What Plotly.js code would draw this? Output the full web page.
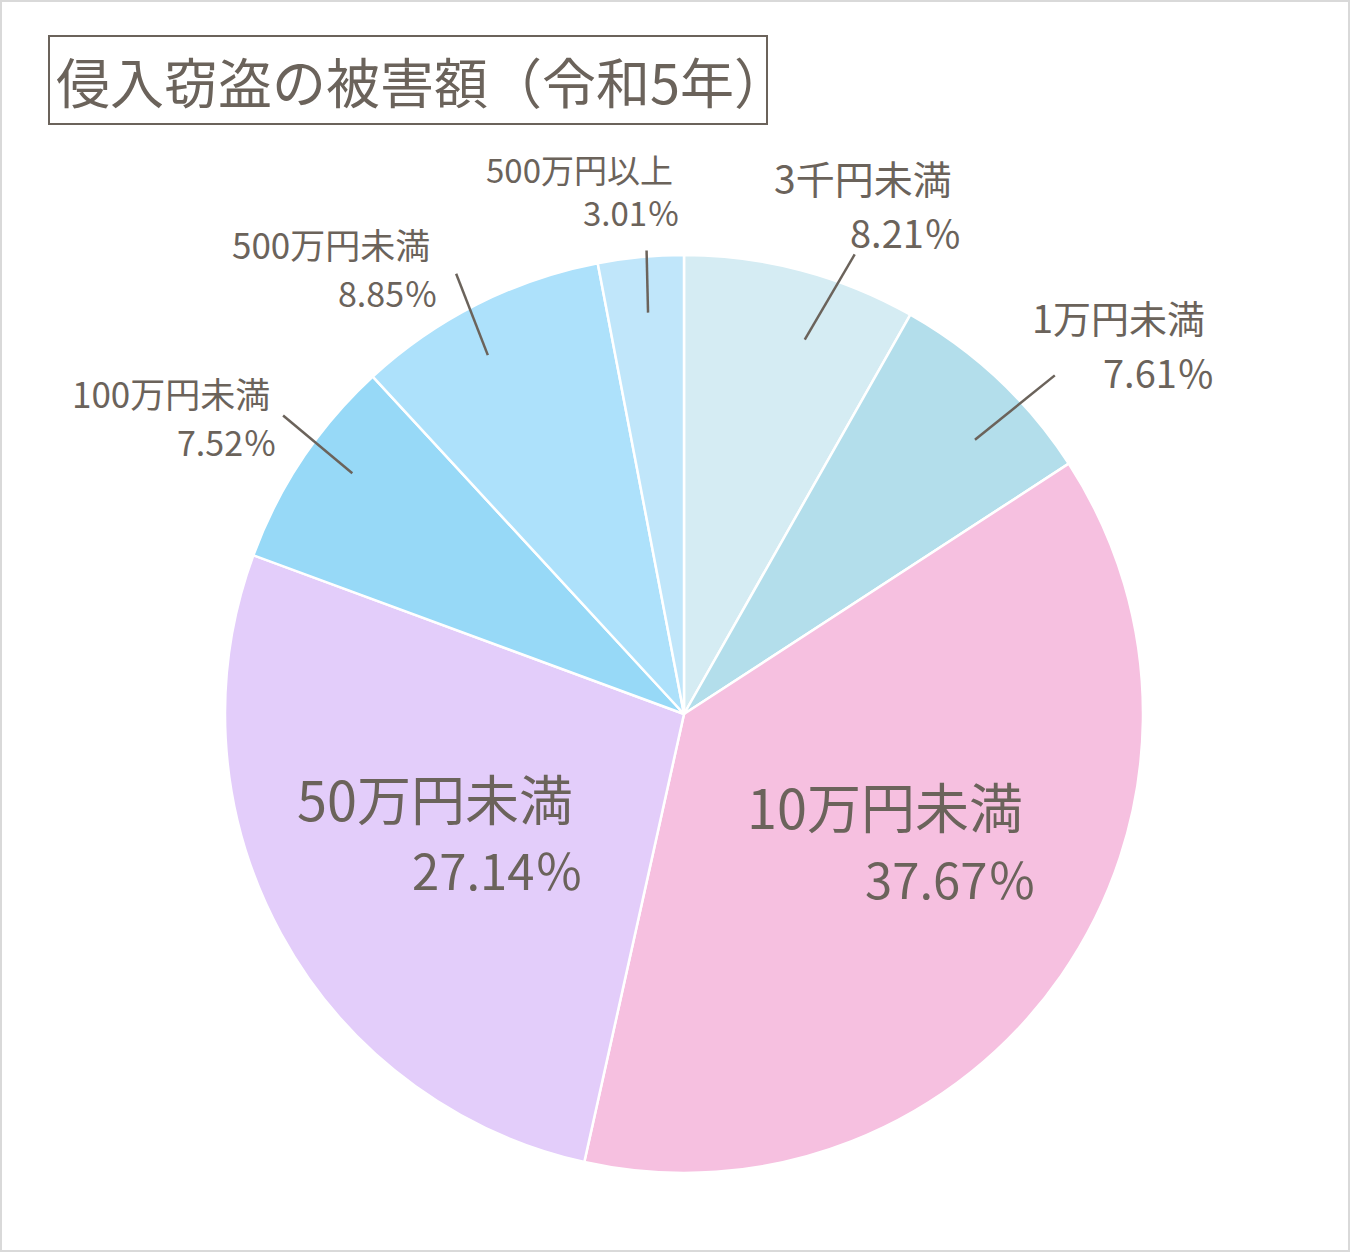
<!DOCTYPE html>
<html>
<head>
<meta charset="utf-8">
<script src="https://cdn.plot.ly/plotly-3.0.1.min.js"></script>
<style>
  html, body { margin: 0; padding: 0; background: #ffffff; }
  #chart { width: 1350px; height: 1252px; }
</style>
</head>
<body>
<div id="chart"></div>
<script>
// ---- data ----
const categories = ["3千円未満", "1万円未満", "10万円未満", "50万円未満", "100万円未満", "500万円未満", "500万円以上"];
const shares = [8.21, 7.61, 37.67, 27.14, 7.52, 8.85, 3.01];
const sliceColors = ["#d5ecf3", "#b3deeb", "#f6c0e0", "#e3cdfa", "#97d9f7", "#ade1fb", "#c0e6fa"];
const chartTitle = "侵入窃盗の被害額（令和5年）";

// ---- layout constants (pixels) ----
const W = 1350, H = 1252;
const CX = 684, CY = 714, R = 459;
const textColor = "#6b635b";
const FONT = "'Noto Sans CJK JP', 'Noto Sans', sans-serif";

// label placement (style/position only)
const labelStyle = [
  {line: true, dIn: 3.1, dOut: 5.6, rIn: 0.857, rOut: 1.068, nx: 954, ny: 177, px: 964, py: 232, ns: 39, ps: 38},
  {line: true, dIn: 3.45, dOut: 4.35, rIn: 0.871, rOut: 1.094, nx: 1207, ny: 317, px: 1217, py: 371, ns: 38, ps: 38},
  {line: false, nx: 1025, ny: 805, px: 1038, py: 878, ns: 54, ps: 49},
  {line: false, nx: 575, ny: 797, px: 585, py: 868, ns: 54, ps: 49},
  {line: true, dIn: 2.2, dOut: 2.9, rIn: 0.893, rOut: 1.089, nx: 272, ny: 393, px: 279, py: 441, ns: 35, ps: 34},
  {line: true, dIn: -1.9, dOut: -0.6, rIn: 0.891, rOut: 1.08, nx: 432, ny: 243, px: 440, py: 292, ns: 35, ps: 34},
  {line: true, dIn: 0.3, dOut: 0.8, rIn: 0.878, rOut: 1.013, nx: 675, ny: 169, px: 682, py: 212, ns: 33, ps: 33}
];

const fx = x => x / W;
const fy = y => 1 - y / H;

// slice mid angles from data (clockwise from 12 o'clock)
const total = shares.reduce((a, b) => a + b, 0);
let cum = 0;
const midAngles = shares.map(v => {
  const a = (cum + v / 2) / total * 360;
  cum += v;
  return a;
});

function polar(angDeg, rf) {
  const t = angDeg * Math.PI / 180;
  return [CX + R * rf * Math.sin(t), CY - R * rf * Math.cos(t)];
}

const annotations = [];
const shapes = [];

// outer frame
shapes.push({type: "rect", xref: "paper", yref: "paper",
  x0: fx(1), x1: fx(W - 1), y0: fy(H - 1), y1: fy(1),
  line: {color: "#d9d9d9", width: 2}, fillcolor: "rgba(0,0,0,0)", layer: "above"});

// title box
annotations.push({
  xref: "paper", yref: "paper", x: fx(48), y: fy(35), xanchor: "left", yanchor: "top",
  text: chartTitle, showarrow: false, align: "left",
  font: {family: FONT, size: 54, color: textColor},
  bordercolor: textColor, borderwidth: 2, borderpad: 6, width: 704, height: 74,
  bgcolor: "#ffffff"
});

categories.forEach((c, i) => {
  const s = labelStyle[i];
  annotations.push({
    xref: "paper", yref: "paper", x: fx(s.nx), y: fy(s.ny), xanchor: "right", yanchor: "middle",
    text: c, showarrow: false, align: "right",
    font: {family: FONT, size: s.ns, color: textColor}
  });
  annotations.push({
    xref: "paper", yref: "paper", x: fx(s.px), y: fy(s.py), xanchor: "right", yanchor: "middle",
    text: shares[i].toFixed(2) + "％", showarrow: false, align: "right",
    font: {family: FONT, size: s.ps, color: textColor}
  });
  if (s.line) {
    const p0 = polar(midAngles[i] + s.dIn, s.rIn), p1 = polar(midAngles[i] + s.dOut, s.rOut);
    shapes.push({type: "line", xref: "paper", yref: "paper",
      x0: fx(p0[0]), y0: fy(p0[1]), x1: fx(p1[0]), y1: fy(p1[1]),
      line: {color: textColor, width: 2.5}, layer: "above"});
  }
});

const trace = {
  type: "pie",
  labels: categories,
  values: shares,
  sort: false,
  direction: "clockwise",
  rotation: 0,
  textinfo: "none",
  hoverinfo: "label+percent",
  marker: {colors: sliceColors, line: {color: "#ffffff", width: 2.5}},
  domain: {x: [fx(CX - R), fx(CX + R)], y: [fy(CY + R), fy(CY - R)]},
  showlegend: false
};

const layout = {
  width: W, height: H,
  margin: {l: 0, r: 0, t: 0, b: 0},
  paper_bgcolor: "#ffffff",
  plot_bgcolor: "#ffffff",
  showlegend: false,
  font: {family: FONT, color: textColor},
  annotations: annotations,
  shapes: shapes
};

Plotly.newPlot("chart", [trace], layout, {displayModeBar: false, staticPlot: true});
</script>
</body>
</html>
